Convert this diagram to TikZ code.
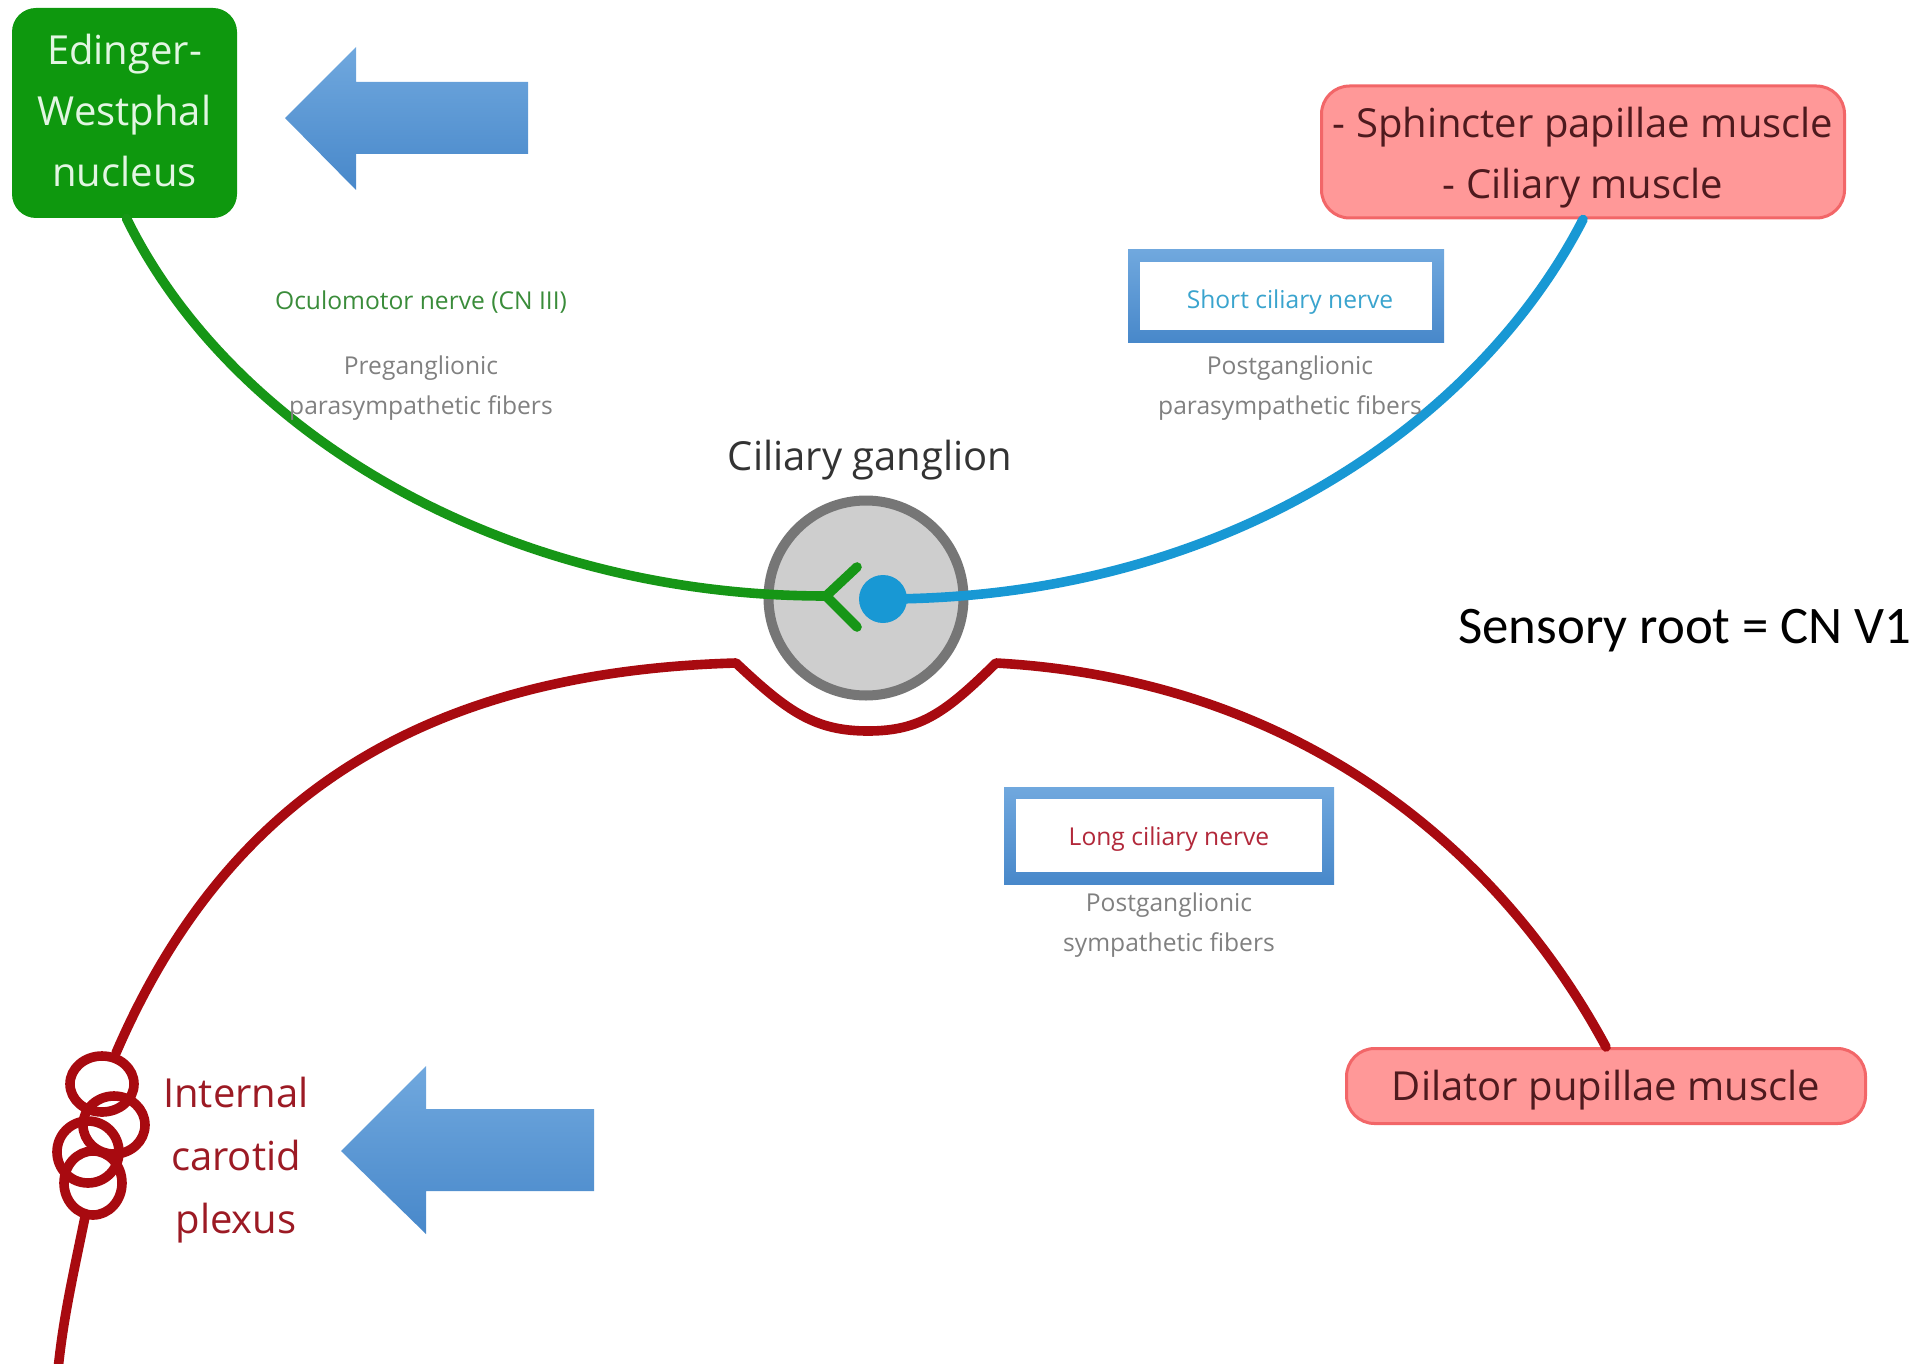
\documentclass[tikz,border=0pt]{standalone}
\usepackage{fontspec}
\setmainfont{Open Sans}
\newfontfamily\calibrifont{Carlito}

\definecolor{ewGreen}{RGB}{14,152,14}
\definecolor{ewText}{RGB}{226,246,226}
\definecolor{nerveGreen}{RGB}{22,150,22}
\definecolor{nerveBlue}{RGB}{24,152,212}
\definecolor{nerveRed}{RGB}{168,10,16}
\definecolor{muscleFill}{RGB}{255,152,152}
\definecolor{muscleLine}{RGB}{242,102,104}
\definecolor{muscleText}{RGB}{78,26,30}
\definecolor{arrTop}{RGB}{112,168,222}
\definecolor{arrBot}{RGB}{72,136,202}
\definecolor{gangFill}{RGB}{206,206,206}
\definecolor{gangLine}{RGB}{118,118,118}
\definecolor{labelGray}{RGB}{128,128,128}
\definecolor{ocuGreen}{RGB}{58,140,58}
\definecolor{shortBlue}{RGB}{58,164,206}
\definecolor{longRed}{RGB}{178,40,58}
\definecolor{plexText}{RGB}{156,26,36}

\begin{document}
\begin{tikzpicture}[
  x=0.5pt, y=-0.5pt,
  bigfont/.style={font=\fontsize{20pt}{30.5pt}\selectfont},
  smallfont/.style={font=\fontsize{12.3pt}{20pt}\selectfont},
  nerve/.style={line width=4.8pt, line cap=round, line join=round},
  musclebox/.style={rectangle, rounded corners=14pt, draw=muscleLine,
    line width=1.5pt, fill=muscleFill, inner sep=0pt},
  muscletext/.style={text=muscleText, align=center, bigfont, inner sep=0pt},
  nerveframe/.style={rectangle, top color=arrTop, bottom color=arrBot,
    inner sep=0pt},
  nerveinner/.style={rectangle, fill=white, inner sep=0pt},
  fiberlabel/.style={smallfont, text=labelGray, align=center, inner sep=0pt},
]
\useasboundingbox (0,0) rectangle (1926,1364);

% ---- boxes -------------------------------------------------------------
\node[rectangle, rounded corners=12pt, fill=ewGreen, inner sep=0pt,
      minimum width=112.5pt, minimum height=105pt] (ew) at (124.5,113) {};
\node[text=ewText, align=center, bigfont, inner sep=0pt] (ewtext)
  at (124.5,111) {Edinger-\\Westphal\\nucleus};

\node[musclebox, minimum width=261.5pt, minimum height=66pt] (sph) at (1583,152) {};
\node[muscletext] (sphtext) at (1583,158) {- Sphincter papillae muscle\\- Ciliary muscle};

\node[musclebox, minimum width=259.5pt, minimum height=37.5pt] (dil) at (1606,1086) {};
\node[muscletext] (diltext) at (1606,1090) {Dilator pupillae muscle};

% ---- ciliary ganglion ---------------------------------------------------
\node[circle, draw=gangLine, line width=5pt, fill=gangFill,
      minimum size=97.5pt, inner sep=0pt] (gang) at (866,598) {};
\node[bigfont, text=black!80, inner sep=0pt] (ganglabel) at (870,460)
  {Ciliary ganglion};

\coordinate (fork) at (826,596);
\coordinate (armA) at (857,567);
\coordinate (armB) at (857,627);
\node[circle, fill=nerveBlue, minimum size=24pt, inner sep=0pt] (syn)
  at (883,599) {};

% ---- oculomotor (preganglionic) ----------------------------------------
\draw[nerve, nerveGreen] ([xshift=1pt]ew.south) .. controls (230,430) and (500,596) .. (fork);
\draw[nerve, nerveGreen] (armA) -- (fork) -- (armB);

% ---- short ciliary nerve (postganglionic) --------------------------------
\draw[nerve, nerveBlue] (syn.center) .. controls (1230,599) and (1480,420) .. (sph.south);

% ---- sympathetic pathway -----------------------------------------------
\coordinate (plexTop) at (116,1053);
\coordinate (kinkL) at (736,663);
\coordinate (dip) at (868,731);
\coordinate (kinkR) at (996,663);
\coordinate (plexBot) at (85,1217);
\coordinate (base) at (58,1370);

\draw[nerve, nerveRed] (plexTop) .. controls (225,800) and (420,672) .. (kinkL)
  .. controls (788,712) and (815,731) .. (dip)
  .. controls (921,731) and (946,712) .. (kinkR)
  .. controls (1300,680) and (1500,850) .. (dil.north);

% internal carotid plexus loops
\draw[nerve, nerveRed] (102,1084) ellipse [x radius=16pt, y radius=14pt];
\draw[nerve, nerveRed] (114,1125) ellipse [x radius=15.5pt, y radius=14.5pt];
\draw[nerve, nerveRed] (88,1152) ellipse [x radius=15.5pt, y radius=15.5pt];
\draw[nerve, nerveRed] (93,1183) ellipse [x radius=14.5pt, y radius=16pt];
\draw[nerve, nerveRed, line cap=butt] (plexBot) .. controls (72,1280) and (63,1320) .. (base);

% ---- nerve labels ------------------------------------------------------
\node[smallfont, text=ocuGreen, inner sep=0pt] (ocu) at (421,302)
  {Oculomotor nerve (CN III)};
\node[fiberlabel] (pre) at (421,388) {Preganglionic\\parasympathetic fibers};

\node[nerveframe, minimum width=158pt, minimum height=46pt] (scframe) at (1286,296) {};
\node[nerveinner, minimum width=146pt, minimum height=34pt] (scinner) at (scframe) {};
\node[smallfont, text=shortBlue, inner sep=0pt] (sc) at (1290,302) {Short ciliary nerve};
\node[fiberlabel] (postp) at (1290,388) {Postganglionic\\parasympathetic fibers};

\node[nerveframe, minimum width=165pt, minimum height=48.5pt] (lcframe) at (1169,835.5) {};
\node[nerveinner, minimum width=153pt, minimum height=36.5pt] (lcinner) at (lcframe) {};
\node[smallfont, text=longRed, inner sep=0pt] (lc) at (1169,839) {Long ciliary nerve};
\node[fiberlabel] (posts) at (1169,925) {Postganglionic\\sympathetic fibers};

\node[font=\fontsize{20pt}{31.3pt}\selectfont, text=plexText, align=center,
      inner sep=0pt] (plex) at (236,1160) {Internal\\carotid\\plexus};

\node[font=\calibrifont\fontsize{26.4pt}{32pt}\selectfont, inner sep=0pt] (sens)
  at (1685,631) {Sensory root = CN V1};

% ---- pointer arrows ------------------------------------------------------
\shade[top color=arrTop, bottom color=arrBot]
  (285,118) -- (356,47) -- (356,82) -- (528,82) -- (528,154) -- (356,154) -- (356,190) -- cycle;
\shade[top color=arrTop, bottom color=arrBot]
  (341,1151) -- (426,1066) -- (426,1109) -- (594,1109) -- (594,1191) -- (426,1191) -- (426,1234) -- cycle;
\end{tikzpicture}
\end{document}
